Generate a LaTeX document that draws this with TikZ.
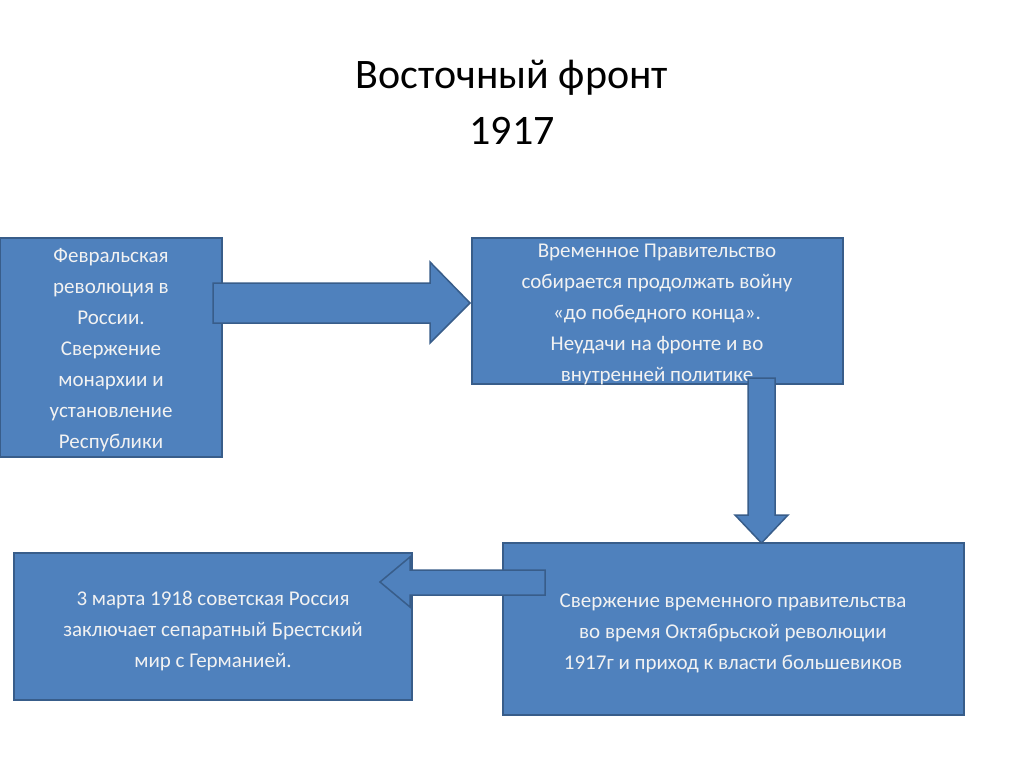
\documentclass[tikz,border=0pt]{standalone}
\usepackage{fontspec}
\setmainfont{Carlito}
\begin{document}
\begin{tikzpicture}[x=1pt,y=-1pt]
\definecolor{bfill}{HTML}{4F81BD}
\definecolor{bline}{HTML}{385D8A}
\definecolor{ttxt}{HTML}{F2F2F2}
\tikzset{box/.style={fill=bfill,draw=bline,line width=1.5pt},
 arr/.style={fill=bfill,draw=bline,line width=1.5pt,line join=miter},
 btext/.style={text=ttxt,font=\fontsize{21}{31}\selectfont,align=center,inner sep=0pt}}
\useasboundingbox (0,0) rectangle (1024,768);
\fill[white] (0,0) rectangle (1024,768);
\node[font=\fontsize{42}{56}\selectfont,align=center] (title) at (512,102) {Восточный фронт\\1917};
\draw[box] (0,238) rectangle (222,457);
\draw[box] (472,238) rectangle (843,384);
\draw[box] (503,543) rectangle (964,715);
\draw[box] (14,553) rectangle (412,700);
\node[btext] (t1) at (111,350) {Февральская\\революция в\\России.\\Свержение\\монархии и\\установление\\Республики};
\node[btext] (t2) at (657,314) {Временное Правительство\\собирается продолжать войну\\«до победного конца».\\Неудачи на фронте и во\\внутренней политике};
\node[btext] (t3) at (733,633) {Свержение временного правительства\\во время Октябрьской революции\\1917г и приход к власти большевиков};
\node[btext] (t4) at (213,631) {3 марта 1918 советская Россия\\заключает сепаратный Брестский\\мир с Германией.};
\draw[arr] (213,283) -- (430,283) -- (430,262) -- (470,303) -- (430,343) -- (430,323) -- (213,323) -- cycle;
\draw[arr] (748,378) -- (775,378) -- (775,515) -- (788,515) -- (761.5,543) -- (735,515) -- (748,515) -- cycle;
\draw[arr] (545,570) -- (410,570) -- (410,557) -- (380,582) -- (410,607) -- (410,595) -- (545,595) -- cycle;
\end{tikzpicture}
\end{document}
